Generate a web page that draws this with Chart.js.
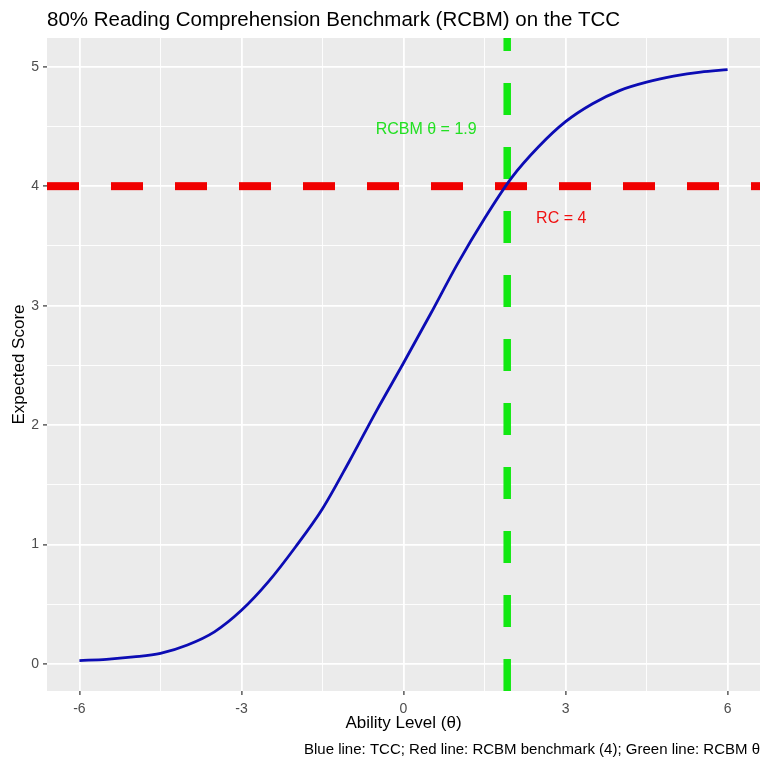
<!DOCTYPE html>
<html><head><meta charset="utf-8">
<script src="https://cdn.jsdelivr.net/npm/chart.js@4.4.0/dist/chart.umd.min.js"></script>
<style>html,body{margin:0;padding:0;background:#fff}#wrap{width:761px;height:766px}</style>
</head><body><div id="wrap"><canvas id="c" width="761" height="766"></canvas></div>
<script>
// ---- data ----
const thetaValues = [-6,-5.5,-5,-4.5,-4,-3.5,-3,-2.5,-2,-1.5,-1,-0.5,0,0.5,1,1.5,2,2.5,3,3.5,4,4.5,5,5.5,6];
const tccValues   = [0.03,0.04,0.06,0.09,0.16,0.27,0.45,0.69,0.98,1.30,1.70,2.12,2.52,2.93,3.35,3.73,4.07,4.33,4.54,4.69,4.80,4.87,4.92,4.955,4.975];
const benchmarkScore = 4;
const rcbmTheta = 1.92;
const xTickLabels = [-6,-3,0,3,6];
const xMinorTicks = [-4.5,-1.5,1.5,4.5];
const yTickLabels = [0,1,2,3,4,5];
const yMinorTicks = [0.5,1.5,2.5,3.5,4.5];
const titleText = '80% Reading Comprehension Benchmark (RCBM) on the TCC';
const xTitleText = 'Ability Level (\u03b8)';
const yTitleText = 'Expected Score';
const captionText = 'Blue line: TCC; Red line: RCBM benchmark (4); Green line: RCBM \u03b8';
const rcbmLabel = 'RCBM \u03b8 = 1.9';
const rcLabel = 'RC = 4';

// ---- chart ----
const FONT = "'Liberation Sans', Arial, sans-serif";
const X_MIN = -6.6, X_MAX = 6.6, Y_MIN = -0.225, Y_MAX = 5.24;

const panelPlugin = {
  id: 'panel',
  beforeDraw(chart) {
    const {ctx, chartArea: a} = chart;
    ctx.save();
    ctx.fillStyle = '#ffffff';
    ctx.fillRect(0, 0, chart.width, chart.height);
    ctx.fillStyle = '#EBEBEB';
    ctx.fillRect(a.left, a.top, a.right - a.left, a.bottom - a.top);
    ctx.restore();
  },
  afterDatasetsDraw(chart) {
    const {ctx, scales: {x, y}} = chart;
    ctx.save();
    ctx.font = '16px ' + FONT;
    ctx.textAlign = 'center';
    ctx.textBaseline = 'middle';
    ctx.fillStyle = '#22e022';
    ctx.fillText(rcbmLabel, x.getPixelForValue(rcbmTheta - 1.5), y.getPixelForValue(benchmarkScore + 0.47));
    ctx.fillStyle = '#f01010';
    ctx.fillText(rcLabel, x.getPixelForValue(rcbmTheta + 1), y.getPixelForValue(benchmarkScore - 0.27));
    ctx.restore();
  }
};

const isIn = (arr, v) => arr.some(a => Math.abs(a - v) < 1e-9);

new Chart(document.getElementById('c'), {
  type: 'scatter',
  data: {
    datasets: [
      {
        label: 'TCC',
        data: thetaValues.map((t, i) => ({x: t, y: tccValues[i]})),
        showLine: true,
        borderColor: '#0c0cb4',
        borderWidth: 2.8,
        pointRadius: 0,
        cubicInterpolationMode: 'monotone',
        fill: false
      },
      {
        label: 'Benchmark',
        data: [{x: X_MIN, y: benchmarkScore}, {x: X_MAX, y: benchmarkScore}],
        showLine: true,
        borderColor: '#f00000',
        borderWidth: 8,
        borderDash: [32, 32],
        borderCapStyle: 'butt',
        pointRadius: 0
      },
      {
        label: 'RCBM theta',
        data: [{x: rcbmTheta, y: Y_MIN}, {x: rcbmTheta, y: Y_MAX}],
        showLine: true,
        borderColor: '#12e812',
        borderWidth: 7.5,
        borderDash: [32, 32],
        borderCapStyle: 'butt',
        pointRadius: 0
      }
    ]
  },
  options: {
    responsive: false,
    animation: false,
    devicePixelRatio: 1,
    layout: {padding: {left: 0, right: 1, top: 0, bottom: 0}},
    plugins: {
      legend: {display: false},
      tooltip: {enabled: false},
      title: {
        display: true, text: titleText, align: 'start', fullSize: false,
        color: '#000', font: {family: FONT, size: 20.5, weight: 'normal'},
        padding: {top: 8, bottom: 5.4}
      },
      subtitle: {
        display: true, text: captionText, position: 'bottom', align: 'end',
        color: '#000', font: {family: FONT, size: 15, weight: 'normal'},
        padding: {top: 4, bottom: 7}
      }
    },
    scales: {
      x: {
        type: 'linear', position: 'bottom', min: X_MIN, max: X_MAX,
        afterBuildTicks: s => { s.ticks = xTickLabels.concat(xMinorTicks).sort((a,b)=>a-b).map(v => ({value: v})); },
        afterFit: s => { s.height = 46; },
        ticks: {
          autoSkip: false, maxRotation: 0, padding: 6, color: '#4d4d4d',
          font: {family: FONT, size: 14},
          callback: v => isIn(xTickLabels, v) ? String(v) : ''
        },
        grid: {
          color: '#ffffff',
          lineWidth: c => isIn(xTickLabels, c.tick.value) ? 1.8 : 0.9,
          tickColor: c => isIn(xTickLabels, c.tick.value) ? '#333333' : 'rgba(0,0,0,0)',
          tickWidth: 1.2, tickLength: 4
        },
        border: {display: false},
        title: {display: true, text: xTitleText, color: '#000', font: {family: FONT, size: 17}, padding: {top: 0, bottom: 3.8}}
      },
      y: {
        type: 'linear', position: 'left', min: Y_MIN, max: Y_MAX,
        afterBuildTicks: s => { s.ticks = yTickLabels.concat(yMinorTicks).sort((a,b)=>a-b).map(v => ({value: v})); },
        afterFit: s => { s.width = 47; },
        ticks: {
          autoSkip: false, padding: 4, color: '#4d4d4d',
          font: {family: FONT, size: 14},
          callback: v => isIn(yTickLabels, v) ? String(v) : ''
        },
        grid: {
          color: '#ffffff',
          lineWidth: c => isIn(yTickLabels, c.tick.value) ? 1.8 : 0.9,
          tickColor: c => isIn(yTickLabels, c.tick.value) ? '#333333' : 'rgba(0,0,0,0)',
          tickWidth: 1.2, tickLength: 4
        },
        border: {display: false},
        title: {display: true, text: yTitleText, color: '#000', font: {family: FONT, size: 17}, padding: {top: 8.8, bottom: 0}}
      }
    }
  },
  plugins: [panelPlugin]
});
</script>
</body></html>
